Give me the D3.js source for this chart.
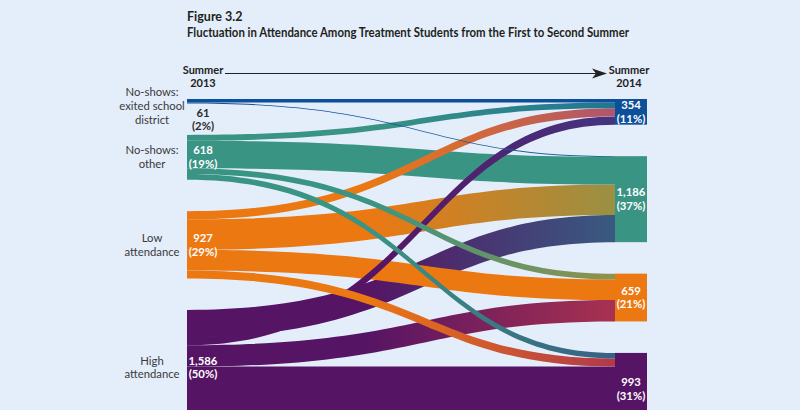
<!DOCTYPE html>
<html>
<head>
<meta charset="utf-8">
<script src="https://cdn.jsdelivr.net/npm/d3@7"></script>
<style>
  html, body { margin: 0; padding: 0; background: #e4edfa; }
  svg { display: block; }
  text { font-family: Lato, "Open Sans", sans-serif; }
</style>
</head>
<body>
<svg id="chart" width="800" height="410"></svg>
<script>
// ---------------- DATA ----------------
const titleLines = ["Figure 3.2", "Fluctuation in Attendance Among Treatment Students from the First to Second Summer"];
const periodLabels = [["Summer", "2013"], ["Summer", "2014"]];
const categories = ["No-shows: exited school district", "No-shows: other", "Low attendance", "High attendance"];
const categoryLines = [["No-shows:", "exited school", "district"], ["No-shows:", "other"], ["Low", "attendance"], ["High", "attendance"]];
const summer2013 = [61, 618, 927, 1586];
const summer2014 = [354, 1186, 659, 993];
// flows, listed in stacking order at the 2013 side
const linkSource = [0, 0, 1, 1, 1, 1, 2, 2, 2, 2, 3, 3, 3, 3];
const linkTarget = [0, 1, 0, 1, 2, 3, 0, 1, 2, 3, 1, 0, 2, 3];
const linkValue  = [49, 12, 80, 380, 80, 78, 112, 420, 285, 110, 374, 113, 294, 805];

// ---------------- STYLE ----------------
const colors = ["#0d4f9a", "#3a9484", "#ec7812", "#561464"];
const xLeft = 187, xRight = 615, nodeW = 32;
const topY = 99, gap = 31.5, pxPerStudent = 0.0725;
const fs = 11.3, lh = 13.6;

const svg = d3.select("#chart");
const total = d3.sum(summer2013);
const y = d3.scaleLinear().domain([0, total]).range([0, total * pxPerStudent]);
const x = d3.scaleLinear().domain([0, 1]).range([xLeft, xRight]);
const pct = v => "(" + d3.format(".0f")(v / total * 100) + "%)";
const fmt = d3.format(",");

function stack(values) {
  let acc = topY;
  return values.map((v, i) => {
    const y0 = acc, y1 = acc + y(v);
    acc = y1 + gap;
    return { i, value: v, y0, y1 };
  });
}
const leftNodes = stack(summer2013);
const rightNodes = stack(summer2014);

// links
const links = linkValue.map((v, i) => ({ i, source: linkSource[i], target: linkTarget[i], value: v }));
const sOff = leftNodes.map(n => n.y0);
links.forEach(l => { l.sy0 = sOff[l.source]; l.sy1 = l.sy0 + y(l.value); sOff[l.source] = l.sy1; });
const tOff = rightNodes.map(n => n.y0);
d3.sort(links, l => l.source).forEach(l => { l.ty0 = tOff[l.target]; l.ty1 = l.ty0 + y(l.value); tOff[l.target] = l.ty1; });

function blend(a, b) {
  const t = 0.47;
  return d3.interpolateRgb(d3.interpolateLab(a, b)(t), d3.interpolateHcl(a, b)(t))(0.35);
}

const defs = svg.append("defs");
links.forEach(l => {
  const g = defs.append("linearGradient")
    .attr("id", "g" + l.i).attr("gradientUnits", "userSpaceOnUse")
    .attr("x1", x(0)).attr("x2", x(1)).attr("y1", 0).attr("y2", 0);
  const c0 = colors[l.source];
  const c1 = l.source === l.target ? c0 : blend(colors[l.source], colors[l.target]);
  g.append("stop").attr("offset", "0").attr("stop-color", c0);
  g.append("stop").attr("offset", "0.42").attr("stop-color", c0);
  g.append("stop").attr("offset", "1").attr("stop-color", c1);
});

function ribbon(l) {
  const x0 = x(0), x1 = x(1);
  const ca = x0 + (x1 - x0) * 0.55, cb = x0 + (x1 - x0) * 0.55;
  const p = d3.path();
  p.moveTo(x0, l.sy0);
  p.bezierCurveTo(ca, l.sy0, cb, l.ty0, x1, l.ty0);
  p.lineTo(x1, l.ty1);
  p.bezierCurveTo(cb, l.ty1, ca, l.sy1, x0, l.sy1);
  p.closePath();
  return p.toString();
}

svg.append("g").selectAll("path")
  .data(d3.sort(links, (a, b) => d3.descending(a.value, b.value)))
  .join("path")
  .attr("d", ribbon)
  .attr("fill", l => `url(#g${l.i})`);

// right nodes
svg.append("g").selectAll("rect")
  .data(rightNodes).join("rect")
  .attr("x", x(1)).attr("y", d => d.y0)
  .attr("width", nodeW).attr("height", d => d.y1 - d.y0)
  .attr("fill", d => colors[d.i]);

// right value labels
rightNodes.forEach(n => {
  const cy = (n.y0 + n.y1) / 2;
  const t = svg.append("text").attr("text-anchor", "middle")
    .attr("fill", "#ffffff").attr("font-weight", 700).attr("font-size", fs);
  [fmt(n.value), pct(n.value)].forEach((s, k) => {
    t.append("tspan").attr("x", x(1) + nodeW / 2).attr("y", cy + (k - 0.5) * lh).attr("dy", "0.35em").text(s);
  });
});

// left labels
leftNodes.forEach(n => {
  const small = (n.y1 - n.y0) < 20;
  const cy = (n.y0 + n.y1) / 2;
  const vt = svg.append("text").attr("text-anchor", "middle")
    .attr("fill", small ? "#2b2b2b" : "#ffffff").attr("font-weight", 700).attr("font-size", fs);
  const vc = small ? n.y1 + 16 : cy;
  [fmt(n.value), pct(n.value)].forEach((s, k) => {
    vt.append("tspan").attr("x", xLeft + 16).attr("y", vc + (k - 0.5) * lh).attr("dy", "0.35em").text(s);
  });
  const lines = categoryLines[n.i];
  const lc = small ? n.y0 + 7 : cy;
  const ct = svg.append("text").attr("text-anchor", "middle")
    .attr("fill", "#3a3a3a").attr("font-size", fs);
  lines.forEach((s, k) => {
    ct.append("tspan").attr("x", 152).attr("y", lc + (k - (lines.length - 1) / 2) * lh).attr("dy", "0.35em").text(s);
  });
});

// period headers + arrow
const headX = [xLeft + 16, x(1) + nodeW / 2 - 2];
periodLabels.forEach((lines, i) => {
  const t = svg.append("text").attr("text-anchor", "middle")
    .attr("fill", "#222").attr("font-weight", 700).attr("font-size", 11);
  lines.forEach((s, k) => t.append("tspan").attr("x", headX[i]).attr("y", 73.5 + k * 13).text(s));
});
svg.append("line").attr("x1", 225).attr("x2", 598).attr("y1", 73.5).attr("y2", 73.5)
  .attr("stroke", "#222").attr("stroke-width", 1);
svg.append("path")
  .attr("d", d3.line()([[607, 73.5], [592, 68.5], [596, 73.5], [592, 78.5]]) + "Z")
  .attr("fill", "#222");

// title
svg.append("text").attr("x", 187).attr("y", 21).attr("font-weight", 700).attr("font-size", 12.5)
  .attr("fill", "#231f20").text(titleLines[0]);
const t2 = svg.append("text").attr("x", 187).attr("y", 37).attr("font-weight", 700).attr("font-size", 12.5)
  .attr("fill", "#231f20").text(titleLines[1]);
const w2 = t2.node().getComputedTextLength();
if (w2 > 442) t2.attr("textLength", 442).attr("lengthAdjust", "spacingAndGlyphs");
</script>
</body>
</html>
